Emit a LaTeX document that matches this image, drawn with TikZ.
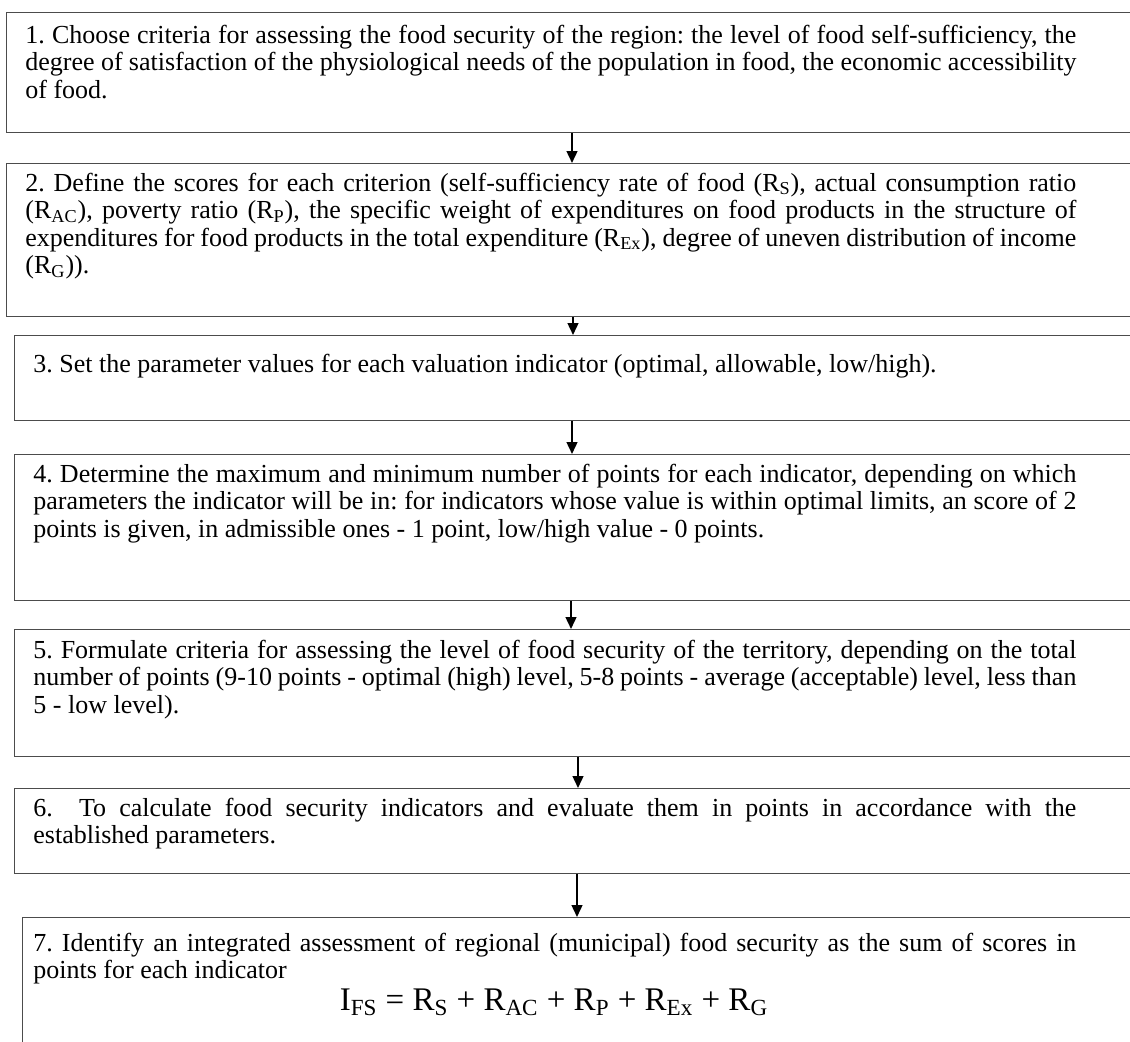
\documentclass[tikz,border=0pt]{standalone}
\usepackage{fontspec}
\setmainfont{Liberation Serif}
\usetikzlibrary{arrows.meta}
\frenchspacing
% eine Zeile auf volle Breite
\newcommand{\fitline}[1]{\hbox to\linewidth{#1}}

\begin{document}
\begin{tikzpicture}[x=0.5pt, y=-0.5pt, >={Triangle[length=6pt, width=5.4pt]},
	stepbox/.style={draw=black!70, line width=0.65pt, anchor=north west, inner sep=0pt, minimum width=570pt},
	steptext/.style={anchor=base west, inner sep=0pt, text width=#1, align=justify,
		font=\fontsize{13}{13.8}\selectfont},
	flow/.style={->, line width=1pt}]
	\useasboundingbox (0,0) rectangle (1130,1041);
	\clip (0,0) rectangle (1130,1041);

	% === 框 ===
	\node[stepbox, minimum height=60pt] (b1) at (6,12) {};
	\node[stepbox, minimum height=76.5pt] (b2) at (6,163) {};
	\node[stepbox, minimum height=42.5pt] (b3) at (14,335) {};
	\node[stepbox, minimum height=73pt] (b4) at (14,454) {};
	\node[stepbox, minimum height=63.5pt] (b5) at (14,629) {};
	\node[stepbox, minimum height=42.5pt] (b6) at (14,788) {};
	\node[stepbox, minimum height=75pt] (b7) at (22,917) {};

	% === 文字 ===
	\node[steptext=525.5pt] (t1) at (25,43) {%
		\fitline{1. Choose criteria for assessing the food security of the region: the level of food self-sufficiency, the}
		\fitline{degree of satisfaction of the physiological needs of the population in food, the economic accessibility}
		of food.};
	\node[steptext=525.5pt] (t2) at (25,191) {%
		\fitline{2. Define the scores for each criterion (self-sufficiency rate of food (R\textsubscript{S}), actual consumption ratio}
		\fitline{(R\textsubscript{AC}), poverty ratio (R\textsubscript{P}), the specific weight of expenditures on food products in the structure of}
		\fitline{expenditures for food products in the total expenditure (R\textsubscript{Ex}), degree of uneven distribution of income}
		(R\textsubscript{G})).};
	\node[steptext=521.5pt] (t3) at (33,372) {3. Set the parameter values for each valuation indicator (optimal, allowable, low/high).};
	\node[steptext=521.5pt] (t4) at (33,482) {%
		\fitline{4. Determine the maximum and minimum number of points for each indicator, depending on which}
		\fitline{parameters the indicator will be in: for indicators whose value is within optimal limits, an score of 2}
		points is given, in admissible ones - 1 point, low/high value - 0 points.};
	\node[steptext=521.5pt] (t5) at (33,658) {%
		\fitline{5. Formulate criteria for assessing the level of food security of the territory, depending on the total}
		\fitline{number of points (9-10 points - optimal (high) level, 5-8 points - average (acceptable) level, less than}
		5 - low level).};
	\node[steptext=521.5pt] (t6) at (33,816) {%
		\fitline{6.\ \ To calculate food security indicators and evaluate them in points in accordance with the}
		established parameters.};
	\node[steptext=521.5pt] (t7) at (33,951) {%
		\fitline{7. Identify an integrated assessment of regional (municipal) food security as the sum of scores in}
		points for each indicator};
	\node[anchor=base, inner sep=0pt, font=\fontsize{16.5}{18}\selectfont] (eq) at (554,1010)
		{I\textsubscript{FS} = R\textsubscript{S} + R\textsubscript{AC} + R\textsubscript{P} + R\textsubscript{Ex} + R\textsubscript{G}};

	% === 箭头 ===
	\foreach \a/\b/\x in {b1/b2/572, b2/b3/573, b3/b4/572, b4/b5/571, b5/b6/578, b6/b7/577}
		\draw[flow] (\a.south -| \x,0) -- (\b.north -| \x,0);
\end{tikzpicture}
\end{document}
